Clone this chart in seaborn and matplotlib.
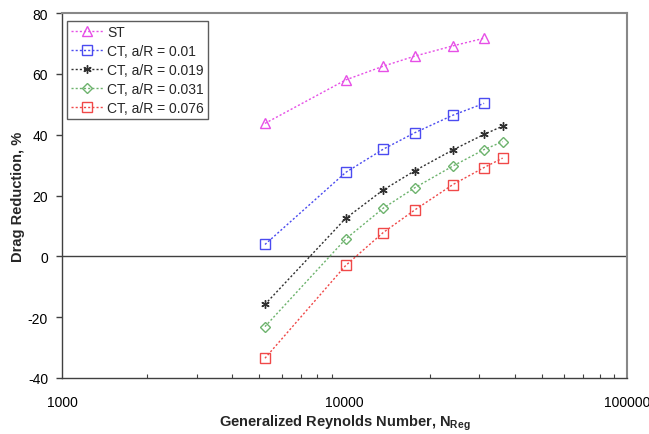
import matplotlib
matplotlib.use("Agg")
import matplotlib.pyplot as plt
import seaborn as sns
import pandas as pd
import numpy as np
from matplotlib.ticker import FixedLocator, FuncFormatter, LogLocator, NullFormatter

sns.set_theme(style="white")
plt.rcParams['font.family'] = ['Liberation Sans', 'DejaVu Sans']
plt.rcParams['mathtext.fontset'] = 'custom'
plt.rcParams['mathtext.bf'] = 'Liberation Sans:bold'
plt.rcParams['mathtext.rm'] = 'Liberation Sans'
plt.rcParams['axes.unicode_minus'] = False

# Data
re6 = [5230, 10100, 13700, 17700, 24200, 31200]
re7 = [5230, 10100, 13700, 17700, 24200, 31200, 36300]
st = [43.7, 58.0, 62.5, 65.8, 69.2, 71.7]
ct_001 = [3.9, 27.6, 35.2, 40.6, 46.4, 50.3]
ct_0019 = [-15.8, 12.5, 21.8, 28.1, 35.0, 40.1, 42.8]
ct_0031 = [-23.1, 5.7, 15.8, 22.5, 29.7, 35.1, 37.7]
ct_0076 = [-33.5, -3.0, 7.8, 15.2, 23.6, 29.2, 32.3]
labels = ["ST", "CT, a/R = 0.01", "CT, a/R = 0.019", "CT, a/R = 0.031", "CT, a/R = 0.076"]
xtick_labels = ["1000", "10000", "100000"]

series = [(re6, st), (re6, ct_001), (re7, ct_0019), (re7, ct_0031), (re7, ct_0076)]
colors = ["#E64FE6", "#4B4BF0", "#303030", "#6DB36D", "#F04848"]
markers = ["^", "s", (6, 2, 0), "D", "s"]
msizes = [7, 6.5, 6, 5.5, 6.5]

rows = []
for lab, (xs, ys) in zip(labels, series):
    for x, y in zip(xs, ys):
        rows.append({"Re": x, "DR": y, "series": lab})
df = pd.DataFrame(rows)

fig = plt.figure(figsize=(6.49, 4.35), dpi=100)
ax = fig.add_axes([62/649, 1-379/435, 565/649, 365/435])

for lab, c, m, ms in zip(labels, colors, markers, msizes):
    sub = df[df["series"] == lab]
    sns.lineplot(data=sub, x="Re", y="DR", ax=ax, color=c, linestyle=(0, (1.5, 1.5)),
                 linewidth=1.0, marker=m, markersize=ms, markerfacecolor="none",
                 markeredgecolor=c, markeredgewidth=1.0, label=lab, sort=False)

ax.set_xscale("log")
ax.set_xlim(1000, 100000)
ax.set_ylim(-40, 80)
ax.axhline(0, color="#404040", lw=1.0, zorder=1)

ax.xaxis.set_major_locator(FixedLocator([1000, 10000, 100000]))
ax.xaxis.set_major_formatter(FuncFormatter(lambda v, p: xtick_labels[int(round(np.log10(v))) - 3]))
ax.xaxis.set_minor_locator(LogLocator(base=10, subs=np.arange(2, 10)))
ax.xaxis.set_minor_formatter(NullFormatter())
ax.set_yticks(np.arange(-40, 81, 20))

ax.tick_params(axis="x", which="major", direction="inout", length=8, width=1, colors="#404040",
               labelcolor="black", labelsize=10, pad=8)
ax.tick_params(axis="x", which="minor", direction="in", length=3, width=0.8, colors="#404040", bottom=True)
ax.tick_params(axis="y", which="major", direction="out", length=4, width=1, colors="#404040",
               labelcolor="black", labelsize=10, left=True, pad=6)

for s in ["left", "bottom"]:
    ax.spines[s].set_color("#404040")
    ax.spines[s].set_linewidth(1.0)
for s in ["top", "right"]:
    ax.spines[s].set_color("#888888")
    ax.spines[s].set_linewidth(1.5)

ax.set_xlabel(r"Generalized Reynolds Number, N$_{\mathbf{Reg}}$", fontsize=10.5,
              fontweight="bold", labelpad=3)
ax.set_ylabel("Drag Reduction, %", fontsize=10.5, fontweight="bold", labelpad=2)

leg = ax.legend(loc="upper left", bbox_to_anchor=(0.009, 0.978), frameon=True, fancybox=False,
                fontsize=10, handlelength=2.3, handletextpad=0.3, borderpad=0.3,
                labelspacing=0.35, borderaxespad=0)
leg.get_frame().set_edgecolor("#333333")
leg.get_frame().set_linewidth(1.0)

fig.savefig("out.png", dpi=100)
